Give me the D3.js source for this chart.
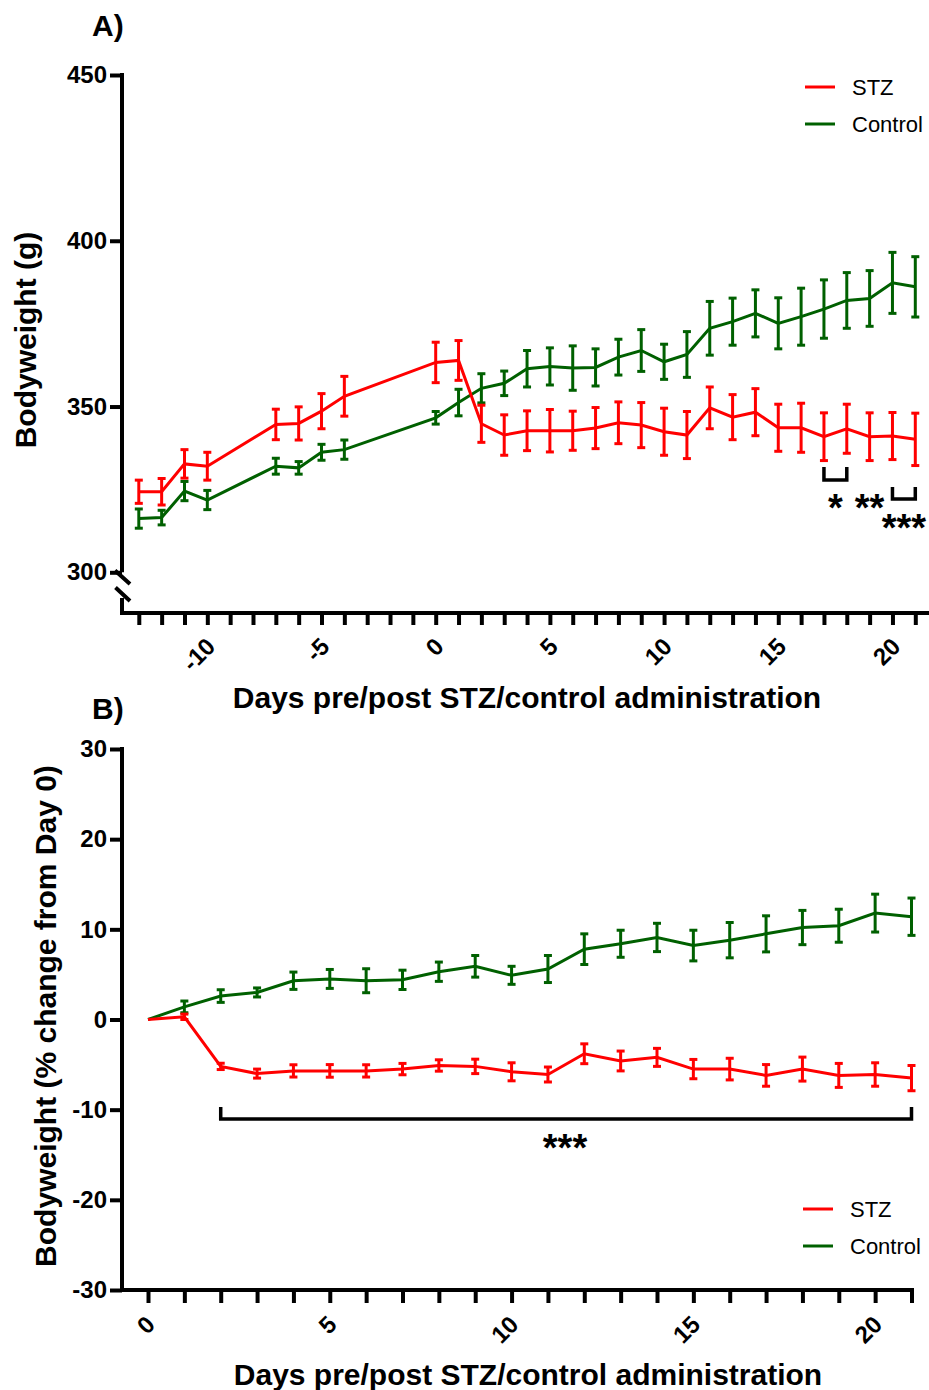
<!DOCTYPE html>
<html>
<head>
<meta charset="utf-8">
<script src="https://cdn.jsdelivr.net/npm/d3@7"></script>
<style>
  body { margin: 0; background: #fff; }
  svg { display: block; font-family: "Liberation Sans", Arial, sans-serif; }
</style>
</head>
<body>
<svg width="929" height="1390"></svg>
<script>
// panel A - absolute bodyweight
var daysA = [-13, -12, -11, -10, -7, -6, -5, -4, 0, 1, 2, 3, 4, 5, 6, 7, 8, 9, 10, 11, 12, 13, 14, 15, 16, 17, 18, 19, 20, 21];
var stzA = [324.3, 324.3, 332.7, 332.0, 344.6, 344.9, 348.6, 353.1, 363.3, 363.9, 344.8, 341.4, 342.7, 342.7, 342.7, 343.5, 345.1, 344.4, 342.4, 341.4, 349.6, 346.8, 348.3, 343.6, 343.6, 340.9, 343.3, 340.9, 341.1, 340.1];
var stzErrA = [3.5, 4.0, 4.3, 4.2, 4.6, 5.0, 5.3, 6.0, 6.1, 6.0, 5.6, 6.1, 6.0, 6.4, 5.9, 6.2, 6.3, 6.8, 7.1, 7.1, 6.3, 6.8, 7.1, 7.1, 7.4, 7.2, 7.4, 7.2, 7.1, 7.9];
var ctrlA = [316.2, 316.5, 324.5, 321.8, 332.0, 331.5, 336.2, 337.0, 346.6, 351.2, 355.5, 357.0, 361.4, 362.1, 361.6, 361.8, 364.9, 366.9, 363.5, 365.7, 373.6, 375.6, 378.1, 375.1, 377.1, 379.4, 382.0, 382.6, 387.3, 386.1];
var ctrlErrA = [2.9, 2.2, 2.9, 2.9, 2.4, 1.9, 2.4, 2.9, 1.9, 4.0, 4.4, 3.7, 5.5, 5.6, 6.7, 5.6, 5.4, 6.3, 5.3, 6.9, 8.1, 7.1, 7.1, 7.7, 8.6, 8.8, 8.4, 8.4, 9.2, 9.1];
var yTicksA = [300, 350, 400, 450];
var xLabelsA = [-10, -5, 0, 5, 10, 15, 20];

// panel B - % change from day 0
var daysB = d3.range(0, 22);
var stzB = [0, 0.3, -5.2, -6.0, -5.7, -5.7, -5.7, -5.5, -5.1, -5.2, -5.8, -6.1, -3.8, -4.6, -4.2, -5.5, -5.5, -6.2, -5.5, -6.2, -6.1, -6.5];
var stzErrB = [0, 0.3, 0.35, 0.5, 0.68, 0.7, 0.68, 0.63, 0.63, 0.8, 1.0, 0.83, 1.1, 1.1, 1.0, 1.07, 1.2, 1.2, 1.33, 1.33, 1.3, 1.4];
var ctrlB = [0, 1.4, 2.6, 3.0, 4.3, 4.5, 4.3, 4.4, 5.3, 5.9, 4.9, 5.6, 7.8, 8.4, 9.1, 8.2, 8.8, 9.5, 10.2, 10.4, 11.8, 11.4];
var ctrlErrB = [0, 0.65, 0.7, 0.5, 0.96, 1.05, 1.33, 1.07, 1.07, 1.2, 1.0, 1.5, 1.7, 1.5, 1.57, 1.7, 1.96, 2.0, 1.9, 1.83, 2.1, 2.07];
var yTicksB = [-30, -20, -10, 0, 10, 20, 30];
var xLabelsB = [0, 5, 10, 15, 20];

var RED = "#ff0000", GREEN = "#006000";
var AXW = 4;

var svg = d3.select("svg");

function drawSeries(g, x, y, days, vals, errs, color) {
    var pts = days.map(function(d, i) { return [d, vals[i], errs[i]]; });
    g.append("path")
        .datum(pts)
        .attr("fill", "none")
        .attr("stroke", color)
        .attr("stroke-width", 3)
        .attr("d", d3.line().x(function(d) { return x(d[0]); }).y(function(d) { return y(d[1]); }));
    var bars = g.append("g").selectAll("g")
        .data(pts.filter(function(d) { return d[2] > 0; }))
        .enter().append("g")
        .attr("stroke", color)
        .attr("stroke-width", 3);
    bars.append("line")
        .attr("x1", function(d) { return x(d[0]); })
        .attr("x2", function(d) { return x(d[0]); })
        .attr("y1", function(d) { return y(d[1] - d[2]); })
        .attr("y2", function(d) { return y(d[1] + d[2]); });
    [-1, 1].forEach(function(s) {
        bars.append("line")
            .attr("x1", function(d) { return x(d[0]) - 4; })
            .attr("x2", function(d) { return x(d[0]) + 4; })
            .attr("y1", function(d) { return y(d[1] + s * d[2]); })
            .attr("y2", function(d) { return y(d[1] + s * d[2]); });
    });
}

function drawLegend(g, lx, ly) {
    var items = [["STZ", RED], ["Control", GREEN]];
    items.forEach(function(it, i) {
        var yy = ly + i * 37;
        g.append("line").attr("x1", lx).attr("x2", lx + 30).attr("y1", yy).attr("y2", yy)
            .attr("stroke", it[1]).attr("stroke-width", 3);
        g.append("text").attr("x", lx + 47).attr("y", yy).attr("dy", "0.36em")
            .style("font-size", "22px").text(it[0]);
    });
}

function styleAxis(g) {
    g.select(".domain").remove();
    g.selectAll(".tick line").attr("stroke", "#000").attr("stroke-width", AXW);
    g.selectAll(".tick text").attr("fill", "#000").style("font-size", "24px").style("font-weight", "bold");
}

function xTickLabels(g, labels, dx, dy) {
    g.selectAll(".tick text")
        .text(function(d) { return labels.indexOf(d) >= 0 ? String(d) : ""; })
        .attr("x", 0).attr("y", 0).attr("dy", "0.35em")
        .attr("transform", "translate(" + dx + "," + dy + ") rotate(-45)")
        .style("text-anchor", "end");
}

function bold(g, x, y, size, txt, anchor, rot) {
    var t = g.append("text")
        .attr("x", x).attr("y", y)
        .style("font-size", size + "px")
        .style("font-weight", "bold")
        .style("text-anchor", anchor || "start")
        .text(txt);
    if (rot) t.attr("transform", "rotate(-90," + x + "," + y + ")");
    return t;
}

// ---------- panel A ----------
var gA = svg.append("g");
var xA = d3.scaleLinear().domain([-13, 21]).range([138.8, 915.3]);
var yA = d3.scaleLinear().domain([300, 450]).range([572.3, 75]);

gA.append("g")
    .attr("transform", "translate(122,0)")
    .call(d3.axisLeft(yA).tickValues(yTicksA).tickSize(12).tickPadding(3).tickFormat(String))
    .call(styleAxis);

// y axis with break
gA.append("path")
    .attr("d", "M122,73 V572.3 M115,570.5 L130,584 M115.5,587.5 L130,601 M122,598 V613 H929")
    .attr("fill", "none").attr("stroke", "#000").attr("stroke-width", AXW);

gA.append("g")
    .attr("transform", "translate(0,613)")
    .call(d3.axisBottom(xA).tickValues(d3.range(-13, 22)).tickSize(12))
    .call(styleAxis)
    .call(xTickLabels, xLabelsA, 3, 29);

drawSeries(gA, xA, yA, daysA, ctrlA, ctrlErrA, GREEN);
drawSeries(gA, xA, yA, daysA, stzA, stzErrA, RED);

// significance marks
gA.append("path")
    .attr("d", "M" + xA(17) + ",467 V480 H" + xA(18) + " V467 M" + xA(20) + ",487 V499 H" + xA(21) + " V487")
    .attr("fill", "none").attr("stroke", "#000").attr("stroke-width", 3.5);
bold(gA, (xA(17) + xA(18)) / 2, 521, 38, "*", "middle");
bold(gA, xA(19), 521, 38, "**", "middle");
bold(gA, (xA(20) + xA(21)) / 2, 541, 38, "***", "middle");

drawLegend(gA, 805, 87);

bold(gA, 92, 36, 30, "A)");
bold(gA, 36, 340, 30, "Bodyweight (g)", "middle", true);
bold(gA, 527, 708, 30, "Days pre/post STZ/control administration", "middle");

// ---------- panel B ----------
var gB = svg.append("g");
var xB = d3.scaleLinear().domain([0, 21]).range([148, 911.5]);
var yB = d3.scaleLinear().domain([-30, 30]).range([1290, 749]);

gB.append("g")
    .attr("transform", "translate(122,0)")
    .call(d3.axisLeft(yB).tickValues(yTicksB).tickSize(12).tickPadding(3).tickFormat(String))
    .call(styleAxis);

gB.append("path")
    .attr("d", "M122,747 V1290 H914")
    .attr("fill", "none").attr("stroke", "#000").attr("stroke-width", AXW);

gB.append("g")
    .attr("transform", "translate(0,1290)")
    .call(d3.axisBottom(xB).tickValues(daysB).tickSize(13))
    .call(styleAxis)
    .call(xTickLabels, xLabelsB, 2, 30);

drawSeries(gB, xB, yB, daysB, ctrlB, ctrlErrB, GREEN);
drawSeries(gB, xB, yB, daysB, stzB, stzErrB, RED);

gB.append("path")
    .attr("d", "M" + xB(2) + ",1107 V1119 H" + xB(21) + " V1107")
    .attr("fill", "none").attr("stroke", "#000").attr("stroke-width", 3.5);
bold(gB, 565, 1161, 38, "***", "middle");

drawLegend(gB, 803, 1209);

bold(gB, 92, 719, 30, "B)");
bold(gB, 56, 1016, 30, "Bodyweight (% change from Day 0)", "middle", true);
bold(gB, 528, 1385, 30, "Days pre/post STZ/control administration", "middle");
</script>
</body>
</html>
